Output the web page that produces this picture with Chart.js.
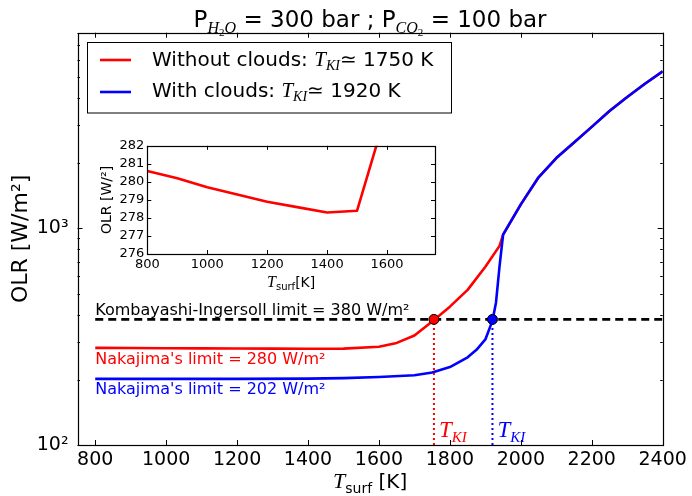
<!DOCTYPE html>
<html>
<head>
<meta charset="utf-8">
<script src="https://cdn.jsdelivr.net/npm/chart.js@4.4.1/dist/chart.umd.min.js"></script>
<style>
body { margin: 0; background: #fff; }
#wrap { position: relative; width: 692px; height: 496px; }
#main { position: absolute; left: 0; top: 0; }
#inset { position: absolute; left: 90px; top: 135px; }
</style>
</head>
<body>
<div id="wrap">
<canvas id="main" width="692" height="496"></canvas>
<canvas id="inset" width="360" height="165"></canvas>
</div>
<script>
// surface temperature [K] vs OLR [W/m2]
const tempClear = [800, 900, 1000, 1100, 1200, 1300, 1400, 1500, 1600, 1650, 1700, 1750, 1800, 1850, 1900, 1940, 1950, 2000, 2050, 2100, 2150, 2200, 2250, 2300, 2350, 2400];
const olrClear  = [280.6, 280.2, 279.7, 279.3, 278.9, 278.6, 278.3, 278.4, 284, 296, 320, 372, 435, 520, 665, 830, 935, 1290, 1720, 2110, 2490, 2940, 3480, 4040, 4650, 5310];
const tempCloud = [800, 1000, 1200, 1400, 1500, 1600, 1700, 1750, 1800, 1850, 1875, 1900, 1920, 1930, 1940, 1950, 2000, 2050, 2100, 2150, 2200, 2250, 2300, 2350, 2400];
const olrCloud  = [202, 202, 202, 202.5, 203.5, 206, 210, 216, 229, 254, 275, 307, 375, 455, 670, 935, 1290, 1720, 2110, 2490, 2940, 3480, 4040, 4650, 5310];

const kiLimit = 380;     // Kombayashi-Ingersoll limit
const tKiClear = 1755;
const tKiCloud = 1920;

const xTicks = [800, 1000, 1200, 1400, 1600, 1800, 2000, 2200, 2400];
const yTicks = [100, 1000];
const yMinorTicks = [200, 300, 400, 500, 600, 700, 800, 900, 2000, 3000, 4000, 5000, 6000, 7000, 8000];
const insetXTicks = [800, 1000, 1200, 1400, 1600];
const insetYTicks = [276, 277, 278, 279, 280, 281, 282];

const SANS = '"DejaVu Sans"';
const SERIF = '"Liberation Serif"';
const RED = '#ff0000';
const BLUE = '#0000ff';

function toPoints(xs, ys) {
    return xs.map(function(x, i) { return { x: x, y: ys[i] }; });
}

// draw a row of text pieces (for the math-like labels)
function drawRuns(ctx, runs, x, y, align) {
    let total = 0;
    runs.forEach(function(r) {
        ctx.font = r.font;
        r.w = ctx.measureText(r.text).width;
        total += r.w;
    });
    let cx = align === 'center' ? x - total / 2 : x;
    ctx.textAlign = 'left';
    ctx.textBaseline = 'alphabetic';
    runs.forEach(function(r) {
        ctx.font = r.font;
        ctx.fillStyle = r.color || '#000';
        ctx.fillText(r.text, cx, y + (r.dy || 0));
        cx += r.w;
    });
}

// matplotlib style frame with inward ticks
function drawFrame(chart, xVals, yVals, yMinor, majLen, minLen) {
    const ctx = chart.ctx;
    const a = chart.chartArea;
    const xs = chart.scales.x, ys = chart.scales.y;
    ctx.save();
    ctx.strokeStyle = '#000';
    ctx.lineWidth = 1;
    ctx.beginPath();
    xVals.forEach(function(v) {
        const px = Math.round(xs.getPixelForValue(v)) + 0.5;
        ctx.moveTo(px, a.bottom); ctx.lineTo(px, a.bottom - majLen);
        ctx.moveTo(px, a.top); ctx.lineTo(px, a.top + majLen);
    });
    yVals.forEach(function(v) {
        const py = Math.round(ys.getPixelForValue(v)) + 0.5;
        ctx.moveTo(a.left, py); ctx.lineTo(a.left + majLen, py);
        ctx.moveTo(a.right, py); ctx.lineTo(a.right - majLen, py);
    });
    yMinor.forEach(function(v) {
        const py = Math.round(ys.getPixelForValue(v)) + 0.5;
        ctx.moveTo(a.left, py); ctx.lineTo(a.left + minLen, py);
        ctx.moveTo(a.right, py); ctx.lineTo(a.right - minLen, py);
    });
    ctx.stroke();
    ctx.lineWidth = 1.2;
    ctx.strokeRect(Math.round(a.left) + 0.5, Math.round(a.top) + 0.5,
        Math.round(a.right - a.left), Math.round(a.bottom - a.top));
    ctx.restore();
}

const mainDecor = {
    id: 'mainDecor',
    afterDatasetsDraw: function(chart) {
        const ctx = chart.ctx;
        const xs = chart.scales.x, ys = chart.scales.y;
        drawFrame(chart, xTicks, yTicks, yMinorTicks, 5, 2.5);

        // annotations
        const x0 = xs.getPixelForValue(tempClear[0]);
        ctx.save();
        ctx.font = '16px ' + SANS;
        ctx.textAlign = 'left';
        ctx.textBaseline = 'alphabetic';
        ctx.fillStyle = '#000';
        ctx.fillText('Kombayashi-Ingersoll limit = 380 W/m²', x0, ys.getPixelForValue(kiLimit) - 4);
        ctx.fillStyle = RED;
        ctx.fillText("Nakajima's limit = 280 W/m²", x0, ys.getPixelForValue(280) + 16);
        ctx.fillStyle = BLUE;
        ctx.fillText("Nakajima's limit = 202 W/m²", x0, ys.getPixelForValue(202) + 15);

        [[tKiClear, RED], [tKiCloud, BLUE]].forEach(function(t) {
            drawRuns(ctx, [
                { text: 'T', font: 'italic 23px ' + SERIF, color: t[1] },
                { text: 'KI', font: 'italic 15px ' + SERIF, color: t[1], dy: 5 }
            ], xs.getPixelForValue(t[0]) + 5, 437, 'left');
        });

        // title
        drawRuns(ctx, [
            { text: 'P', font: '23px ' + SANS },
            { text: 'H', font: 'italic 16px ' + SERIF, dy: 6 },
            { text: '2', font: '11px ' + SERIF, dy: 9 },
            { text: 'O', font: 'italic 16px ' + SERIF, dy: 6 },
            { text: ' = 300 bar ; P', font: '23px ' + SANS },
            { text: 'CO', font: 'italic 16px ' + SERIF, dy: 6 },
            { text: '2', font: '11px ' + SERIF, dy: 9 },
            { text: ' = 100 bar', font: '23px ' + SANS }
        ], (chart.chartArea.left + chart.chartArea.right) / 2, 27, 'center');

        // axis titles
        drawRuns(ctx, [
            { text: 'T', font: 'italic 22px ' + SERIF },
            { text: 'surf', font: '14px ' + SANS, dy: 5 },
            { text: ' [K]', font: '20px ' + SANS }
        ], (chart.chartArea.left + chart.chartArea.right) / 2, 488, 'center');
        ctx.save();
        ctx.translate(27, (chart.chartArea.top + chart.chartArea.bottom) / 2);
        ctx.rotate(-Math.PI / 2);
        ctx.font = '22px ' + SANS;
        ctx.fillStyle = '#000';
        ctx.textAlign = 'center';
        ctx.textBaseline = 'alphabetic';
        ctx.fillText('OLR [W/m²]', 0, 0);
        ctx.restore();

        // legend
        ctx.fillStyle = '#fff';
        ctx.fillRect(87.5, 42.5, 364, 70.5);
        ctx.strokeStyle = '#000';
        ctx.lineWidth = 1;
        ctx.strokeRect(87.5, 42.5, 364, 70.5);
        ctx.lineWidth = 2.6;
        ctx.strokeStyle = RED;
        ctx.beginPath(); ctx.moveTo(100, 60); ctx.lineTo(131, 60); ctx.stroke();
        ctx.strokeStyle = BLUE;
        ctx.beginPath(); ctx.moveTo(100, 92); ctx.lineTo(131, 92); ctx.stroke();
        drawRuns(ctx, [
            { text: 'Without clouds: ', font: '20px ' + SANS },
            { text: 'T', font: 'italic 21px ' + SERIF },
            { text: 'KI', font: 'italic 14px ' + SERIF, dy: 4 },
            { text: '≃ 1750 K', font: '20px ' + SANS }
        ], 152, 66, 'left');
        drawRuns(ctx, [
            { text: 'With clouds: ', font: '20px ' + SANS },
            { text: 'T', font: 'italic 21px ' + SERIF },
            { text: 'KI', font: 'italic 14px ' + SERIF, dy: 4 },
            { text: '≃ 1920 K', font: '20px ' + SANS }
        ], 152, 97, 'left');
        ctx.restore();
    }
};

new Chart(document.getElementById('main'), {
    type: 'line',
    data: {
        datasets: [
            {
                data: [{ x: tKiClear, y: kiLimit }, { x: tKiCloud, y: kiLimit }],
                showLine: false,
                pointRadius: 5,
                pointBackgroundColor: [RED, BLUE],
                pointBorderColor: '#000',
                pointBorderWidth: 1,
                order: 0
            },
            {
                data: [{ x: tempClear[0], y: kiLimit }, { x: tempClear[tempClear.length - 1], y: kiLimit }],
                borderColor: '#000',
                borderWidth: 2.6,
                borderDash: [8, 5],
                pointRadius: 0,
                order: 1
            },
            {
                data: [{ x: tKiClear, y: yTicks[0] }, { x: tKiClear, y: kiLimit }],
                borderColor: RED,
                borderWidth: 2,
                borderDash: [2, 3],
                pointRadius: 0,
                order: 2
            },
            {
                data: [{ x: tKiCloud, y: yTicks[0] }, { x: tKiCloud, y: kiLimit }],
                borderColor: BLUE,
                borderWidth: 2,
                borderDash: [2, 3],
                pointRadius: 0,
                order: 2
            },
            {
                data: toPoints(tempCloud, olrCloud),
                borderColor: BLUE,
                borderWidth: 2.6,
                borderJoinStyle: 'round',
                pointRadius: 0,
                order: 3
            },
            {
                data: toPoints(tempClear, olrClear),
                borderColor: RED,
                borderWidth: 2.6,
                borderJoinStyle: 'round',
                pointRadius: 0,
                order: 4
            }
        ]
    },
    options: {
        responsive: false,
        animation: false,
        devicePixelRatio: 1,
        layout: { padding: { top: 32.7, right: 29.3, left: 0, bottom: 0 } },
        plugins: { legend: { display: false }, tooltip: { enabled: false } },
        scales: {
            x: {
                type: 'linear',
                min: 750,
                max: 2400,
                grid: { display: false, drawTicks: false },
                border: { display: false },
                afterBuildTicks: function(scale) {
                    scale.ticks = xTicks.map(function(v) { return { value: v }; });
                },
                afterFit: function(scale) { scale.height = 51; },
                ticks: {
                    font: { family: 'DejaVu Sans', size: 19 },
                    color: '#000',
                    padding: 4,
                    maxRotation: 0,
                    autoSkip: false,
                    callback: function(value) { return String(value); }
                }
            },
            y: {
                type: 'logarithmic',
                min: 100,
                max: 8000,
                grid: { display: false, drawTicks: false },
                border: { display: false },
                afterBuildTicks: function(scale) {
                    scale.ticks = yTicks.map(function(v) { return { value: v }; });
                },
                afterFit: function(scale) { scale.width = 77.5; },
                ticks: {
                    font: { family: 'DejaVu Sans', size: 19 },
                    color: '#000',
                    padding: 9,
                    autoSkip: false,
                    callback: function(value) {
                        if (value === 100) return '10²';
                        if (value === 1000) return '10³';
                        return '';
                    }
                }
            }
        }
    },
    plugins: [mainDecor]
});

const insetDecor = {
    id: 'insetDecor',
    beforeDatasetsDraw: function(chart) {
        const a = chart.chartArea;
        chart.ctx.save();
        chart.ctx.fillStyle = '#fff';
        chart.ctx.fillRect(a.left, a.top, a.right - a.left, a.bottom - a.top);
        chart.ctx.restore();
    },
    afterDatasetsDraw: function(chart) {
        const ctx = chart.ctx;
        const a = chart.chartArea;
        drawFrame(chart, insetXTicks, insetYTicks, [], 4, 0);
        ctx.save();
        drawRuns(ctx, [
            { text: 'T', font: 'italic 16px ' + SERIF },
            { text: 'surf', font: '10px ' + SANS, dy: 3 },
            { text: '[K]', font: '14px ' + SANS }
        ], (a.left + a.right) / 2, 152, 'center');
        ctx.translate(21, (a.top + a.bottom) / 2);
        ctx.rotate(-Math.PI / 2);
        ctx.font = '14px ' + SANS;
        ctx.fillStyle = '#000';
        ctx.textAlign = 'center';
        ctx.textBaseline = 'alphabetic';
        ctx.fillText('OLR [W/²]', 0, 0);
        ctx.restore();
    }
};

new Chart(document.getElementById('inset'), {
    type: 'line',
    data: {
        datasets: [{
            data: toPoints(tempClear, olrClear),
            borderColor: RED,
            borderWidth: 2.6,
            borderJoinStyle: 'round',
            pointRadius: 0
        }]
    },
    options: {
        responsive: false,
        animation: false,
        devicePixelRatio: 1,
        layout: { padding: { top: 10.7, right: 15, left: 0, bottom: 0 } },
        plugins: { legend: { display: false }, tooltip: { enabled: false } },
        scales: {
            x: {
                type: 'linear',
                min: 800,
                max: 1760,
                grid: { display: false, drawTicks: false },
                border: { display: false },
                afterBuildTicks: function(scale) {
                    scale.ticks = insetXTicks.map(function(v) { return { value: v }; });
                },
                afterFit: function(scale) { scale.height = 46; },
                ticks: {
                    font: { family: 'DejaVu Sans', size: 13 },
                    color: '#000',
                    padding: 3,
                    maxRotation: 0,
                    autoSkip: false,
                    callback: function(value) { return String(value); }
                }
            },
            y: {
                type: 'linear',
                min: 276,
                max: 282,
                grid: { display: false, drawTicks: false },
                border: { display: false },
                afterBuildTicks: function(scale) {
                    scale.ticks = insetYTicks.map(function(v) { return { value: v }; });
                },
                afterFit: function(scale) { scale.width = 57.3; },
                ticks: {
                    font: { family: 'DejaVu Sans', size: 13 },
                    color: '#000',
                    padding: 3,
                    autoSkip: false
                }
            }
        }
    },
    plugins: [insetDecor]
});
</script>
</body>
</html>
